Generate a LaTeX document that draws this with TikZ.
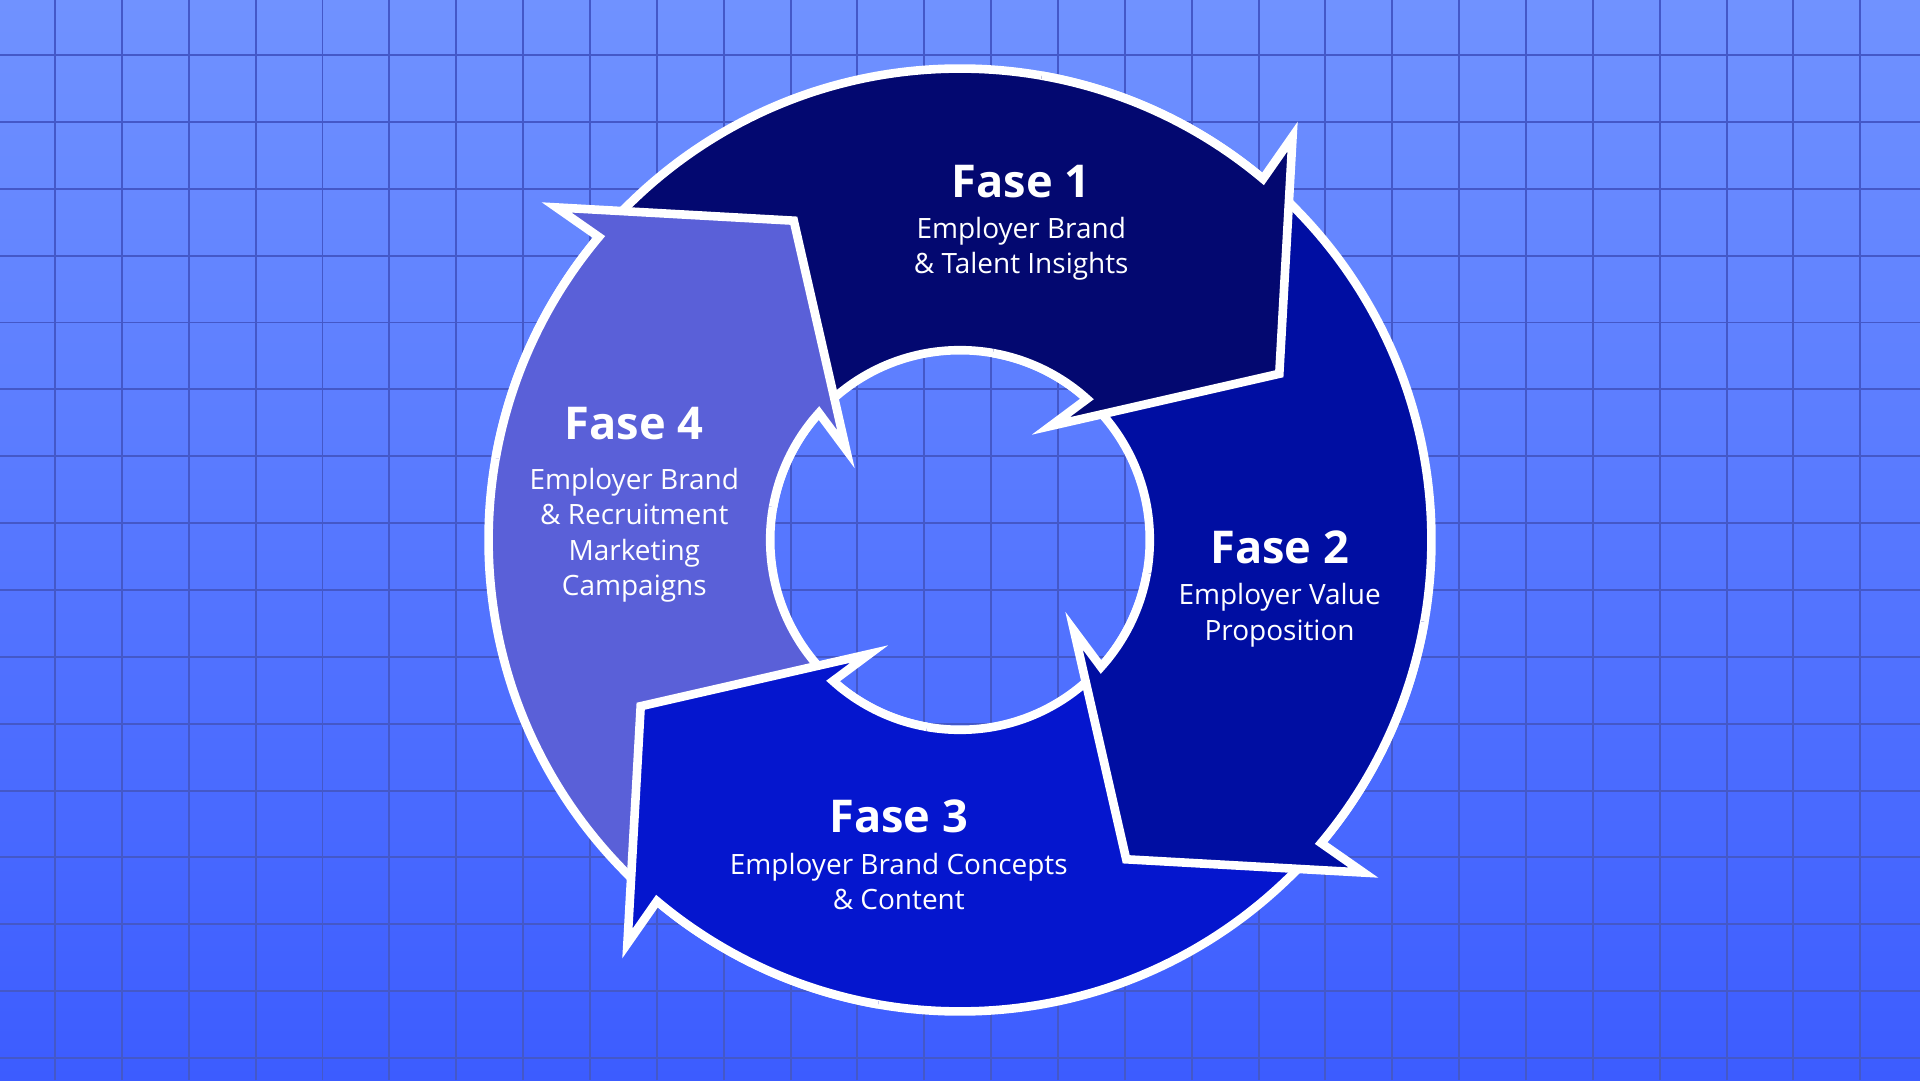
\documentclass[tikz,border=0pt]{standalone}
\usepackage{fontspec}
\setmainfont{Open Sans}
\usetikzlibrary{positioning}
\definecolor{bgtop}{RGB}{112,146,255}
\definecolor{bgbot}{RGB}{60,92,255}
\definecolor{gridblue}{RGB}{68,88,200}
\definecolor{faseA}{RGB}{3,8,112}
\definecolor{faseB}{RGB}{0,14,162}
\definecolor{faseC}{RGB}{5,22,206}
\definecolor{faseD}{RGB}{90,96,216}
\tikzset{
  grid/.style={gridblue,line width=0.9pt},
  ring/.style={white,line width=4pt,line join=miter},
  fase/.style={text=white,font=\bfseries\fontsize{21}{24}\selectfont},
  info/.style={text=white,align=center,font=\fontsize{13}{16.5}\selectfont}
}
\begin{document}
\begin{tikzpicture}[x=2cm,y=2cm]
\useasboundingbox (-7.84,-4.41) rectangle (7.84,4.41);
\shade[top color=bgtop,bottom color=bgbot] (-7.84,-4.41) rectangle (7.84,4.41);
\foreach \i in {0,...,27} \draw[grid] ({-7.39+0.546*\i},-4.41) -- ++(0,8.82);
\foreach \i in {0,...,16} \draw[grid] (-7.84,{3.96-0.546*\i}) -- ++(15.68,0);
%-- ring bodies
\foreach \k/\c in {0/faseA,1/faseB,2/faseC,3/faseD}
  \fill[\c] ({150-90*\k}:3.85) arc[start angle={150-90*\k},end angle={60-90*\k},radius=3.85]
    -- ({60-90*\k}:1.55) arc[start angle={60-90*\k},end angle={150-90*\k},radius=1.55] -- cycle;
\draw[ring] (0,0) circle (3.85) (0,0) circle (1.55);
%-- arrow heads
\foreach \k/\c in {0/faseA,1/faseB,2/faseC,3/faseD}
  \filldraw[ring,fill=\c] ({80-90*\k}:3.85) arc[start angle={80-90*\k},end angle={50-90*\k},radius=3.85]
    -- ({50.5-90*\k}:4.27) -- ({27.5-90*\k}:2.94) -- ({51.5-90*\k}:1.19) -- ({48-90*\k}:1.55)
    arc[start angle={48-90*\k},end angle={80-90*\k},radius=1.55];
%-- labels
\node[fase] (f1) at (0.50,2.93) {Fase 1};
\node[info,below=2pt of f1] (t1) {Employer Brand\\\& Talent Insights};
\node[fase] (f2) at (2.61,-0.06) {Fase 2};
\node[info,below=2pt of f2] (t2) {Employer Value\\Proposition};
\node[fase] (f3) at (-0.50,-2.26) {Fase 3};
\node[info,below=2pt of f3] (t3) {Employer Brand Concepts\\\& Content};
\node[fase] (f4) at (-2.66,0.95) {Fase 4};
\node[info,below=6pt of f4] (t4) {Employer Brand\\\& Recruitment\\Marketing\\Campaigns};
\end{tikzpicture}
\end{document}
